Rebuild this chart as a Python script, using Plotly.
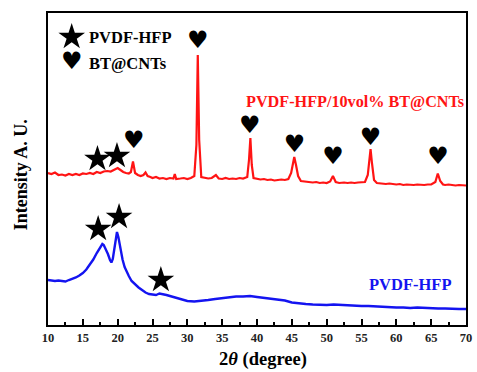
import plotly.graph_objects as go

# XRD pattern of the PVDF-HFP/10vol% BT@CNTs composite (2θ in degrees, intensity a.u.)
composite_angle = [
    10.0, 10.5, 11.0, 11.5, 12.0, 12.5, 13.0, 13.5, 14.0, 14.5, 15.0, 15.5, 16.0, 16.5,
    17.0, 17.5, 18.0, 18.5, 19.0, 19.5, 20.0, 20.4, 20.8, 21.2, 21.6, 21.9, 22.2, 22.5,
    22.9, 23.3, 23.7, 24.0, 24.3, 24.7, 25.0, 25.5, 26.0, 26.5, 27.0, 27.5, 28.0, 28.2,
    28.4, 29.0, 29.5, 30.0, 30.5, 31.0, 31.3, 31.5, 31.7, 32.0, 32.5, 33.0, 33.5, 34.1,
    34.5, 35.0, 35.5, 36.0, 36.5, 37.0, 37.5, 38.0, 38.6, 38.85, 39.05, 39.25, 39.5, 40.0,
    40.5, 41.0, 41.5, 42.0, 42.5, 43.0, 43.5, 44.0, 44.5, 44.9, 45.2, 45.35, 45.6, 45.9,
    46.3, 46.8, 47.3, 48.0, 48.5, 49.0, 49.5, 50.0, 50.5, 50.9, 51.3, 51.8, 52.5, 53.0,
    53.5, 54.0, 54.5, 55.0, 55.5, 55.9, 56.1, 56.3, 56.5, 56.8, 57.2, 58.0, 58.5, 59.0,
    59.5, 60.0, 60.5, 61.0, 61.5, 62.0, 62.5, 63.0, 63.5, 64.0, 64.5, 65.0, 65.6, 65.95,
    66.3, 66.7, 67.0, 67.5, 68.0, 68.5, 69.0, 69.5, 70.0,
]
composite_intensity = [
    152, 151, 152.5, 150, 150.5, 149.5, 151, 150, 151, 150, 151.5, 151, 152, 151,
    153, 152, 153.5, 154, 153.5, 155.5, 157, 155, 153, 152, 151.5, 153, 163.5, 152,
    150, 149, 150, 152.5, 149, 148, 147, 148, 146.5, 147, 146, 147, 146.5, 151,
    146, 146.5, 147, 146, 147, 149, 180, 270, 185, 148, 147, 146.5, 147, 150,
    146.5, 146, 147, 146, 146.5, 146, 147, 146.5, 148, 165, 187, 160, 147, 146,
    145.5, 146, 145, 145.5, 144.5, 145, 145.5, 145, 146, 152, 164, 168, 160, 149,
    144, 143.5, 143, 142.5, 143, 142, 142.5, 142, 143.5, 149, 143, 142, 142.5, 142,
    142.5, 142, 142.5, 142.5, 143, 150, 165, 176, 162, 145, 142, 141.5, 141, 141.5,
    141, 140.5, 141, 140, 140.5, 140, 140, 140.5, 140, 140, 140.5, 140.5, 143, 151.5,
    144, 140.5, 140, 140.5, 140, 139.5, 140, 139.5, 139.5,
]

# XRD pattern of neat PVDF-HFP
neat_angle = [
    10.0, 10.5, 11.0, 11.5, 12.0, 12.5, 13.0, 13.5, 14.0, 14.5, 15.0, 15.5, 16.0, 16.5,
    17.0, 17.3, 17.6, 17.8, 18.0, 18.3, 18.6, 18.9, 19.1, 19.3, 19.5, 19.7, 19.9, 20.1,
    20.3, 20.5, 20.7, 21.0, 21.3, 21.6, 22.0, 22.5, 23.0, 23.5, 24.0, 24.5, 25.0, 25.5,
    26.0, 26.5, 27.0, 27.5, 28.0, 28.5, 29.0, 29.5, 30.0, 31.0, 32.0, 33.0, 34.0, 35.0,
    36.0, 37.0, 38.0, 39.0, 40.0, 41.0, 42.0, 43.0, 44.0, 45.0, 46.0, 47.0, 48.0, 49.0,
    50.0, 51.0, 52.0, 53.0, 54.0, 55.0, 56.0, 57.0, 58.0, 59.0, 60.0, 61.0, 62.0, 63.0,
    64.0, 65.0, 66.0, 67.0, 68.0, 69.0, 70.0,
]
neat_intensity = [
    45, 44.5, 44, 44.5, 44, 43.5, 45, 46, 47.5, 49.5, 52, 55.5, 60, 65.5,
    72, 75.5, 79, 81, 80, 76, 71, 65, 62.5, 66, 75, 85, 93, 88,
    80, 72, 65.5, 58, 53, 49, 44, 40.5, 37.5, 35, 32.5, 31, 30.5, 30,
    31.5, 31, 30, 29, 28, 27, 26, 25, 24, 23.5, 24, 25, 26, 27,
    28, 28.5, 28.5, 29, 28, 27, 26, 25.5, 24.5, 22.5, 21.5, 21, 20.5, 20,
    20, 20.5, 20, 19.5, 19.5, 19, 19, 18.5, 18.5, 18, 17.5, 17.5, 17, 17.5,
    17, 17, 16.5, 16.5, 16, 16, 16,
]

# Peak assignments: stars = PVDF-HFP reflections, hearts = BT@CNTs reflections
star_angle = [17.1, 19.9, 17.2, 20.2, 26.2]
star_intensity = [166, 169, 96, 108, 45]
heart_angle = [22.3, 31.5, 38.95, 45.4, 50.9, 56.3, 66.0]
heart_intensity = [183, 283, 198, 179, 167, 186, 167]

# Legend symbols and labels
legend_angle = [13.4, 13.4]
legend_intensity = [288, 262]
legend_labels = ["PVDF-HFP", "BT@CNTs"]

x_ticks = [10, 15, 20, 25, 30, 35, 40, 45, 50, 55, 60, 65, 70]

SERIF = "Liberation Serif"
RED = "#ff1414"
BLUE = "#1414f0"

fig = go.Figure()

fig.add_trace(go.Scatter(x=composite_angle, y=composite_intensity, mode="lines",
                         line=dict(color=RED, width=2.2), showlegend=False))
fig.add_trace(go.Scatter(x=neat_angle, y=neat_intensity, mode="lines",
                         line=dict(color=BLUE, width=2.4), showlegend=False))

fig.add_trace(go.Scatter(x=star_angle, y=star_intensity, mode="markers",
                         marker=dict(symbol="star", size=20, color="black",
                                     line=dict(width=0)), showlegend=False))
fig.add_trace(go.Scatter(x=heart_angle, y=heart_intensity, mode="text",
                         text=["♥"] * len(heart_angle), textposition="middle center",
                         textfont=dict(family="DejaVu Sans", size=24, color="black"),
                         showlegend=False))

# legend symbols
fig.add_trace(go.Scatter(x=[legend_angle[0]], y=[legend_intensity[0]], mode="markers",
                         marker=dict(symbol="star", size=20, color="black",
                                     line=dict(width=0)), showlegend=False))
fig.add_trace(go.Scatter(x=[legend_angle[1]], y=[legend_intensity[1]], mode="text",
                         text=["♥"], textposition="middle center",
                         textfont=dict(family="DejaVu Sans", size=24, color="black"),
                         showlegend=False))

for a, i, lab in zip(legend_angle, legend_intensity, legend_labels):
    fig.add_annotation(x=a + 2.25, y=i, text=lab, showarrow=False, xanchor="left",
                       yanchor="middle",
                       font=dict(family=SERIF, size=16.5, color="black", weight="bold"))

fig.add_annotation(x=54.0, y=223, text="PVDF-HFP/10vol% BT@CNTs", showarrow=False,
                   xanchor="center", yanchor="middle",
                   font=dict(family=SERIF, size=16.2, color=RED, weight="bold"))
fig.add_annotation(x=62.0, y=41, text="PVDF-HFP", showarrow=False,
                   xanchor="center", yanchor="middle",
                   font=dict(family=SERIF, size=16.5, color=BLUE, weight="bold"))

# axis titles
fig.add_annotation(xref="paper", yref="paper", x=0.514, y=-0.112,
                   text="2<i>θ</i> (degree)", showarrow=False,
                   xanchor="center", yanchor="middle",
                   font=dict(family=SERIF, size=18.5, color="black", weight="bold"))
fig.add_annotation(xref="paper", yref="paper", x=-0.064, y=0.481,
                   text="Intensity A. U.", showarrow=False, textangle=-90,
                   xanchor="center", yanchor="middle",
                   font=dict(family=SERIF, size=18, color="black", weight="bold"))

fig.update_xaxes(
    range=[10, 70], tickvals=x_ticks, ticktext=[str(t) for t in x_ticks],
    ticks="inside", ticklen=6, tickwidth=2, tickcolor="black",
    minor=dict(dtick=2.5, tick0=10, ticks="inside", ticklen=3, tickwidth=2, tickcolor="black"),
    showline=True, linewidth=2, linecolor="black", mirror=True, showgrid=False,
    zeroline=False,
    tickfont=dict(family=SERIF, size=12.5, color="#222", weight="bold"),
)
fig.update_yaxes(
    range=[0, 312], showticklabels=False, ticks="", showgrid=False, zeroline=False,
    showline=True, linewidth=2, linecolor="black", mirror=True,
)

fig.update_layout(
    width=477, height=372,
    margin=dict(l=48, r=5, t=13, b=47),
    paper_bgcolor="white", plot_bgcolor="white",
    showlegend=False,
)

fig.write_html("out.html")
